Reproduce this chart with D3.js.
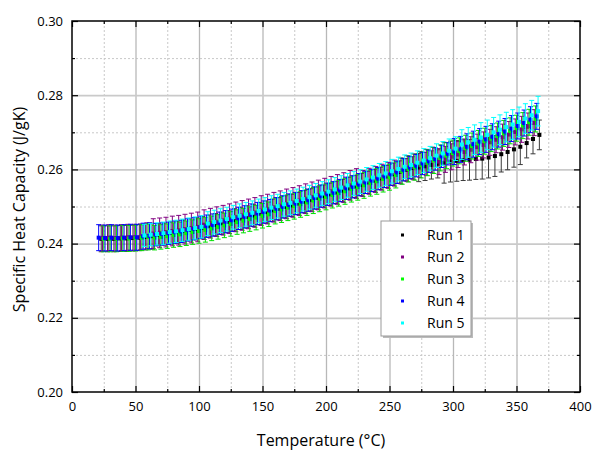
<!DOCTYPE html>
<html><head><meta charset="utf-8">
<script src="https://cdn.jsdelivr.net/npm/d3@7"></script>
<style>body{margin:0;background:#fff}svg{display:block}</style>
</head><body><svg id="c" width="594" height="453"></svg>
<script>
// ---------------- DATA ----------------
const seriesNames = ["Run 1", "Run 2", "Run 3", "Run 4", "Run 5"];
const xTicks = [0, 50, 100, 150, 200, 250, 300, 350, 400];
const xMinorTicks = [25, 75, 125, 175, 225, 275, 325, 375];
const yTicks = [0.20, 0.22, 0.24, 0.26, 0.28, 0.30];
const yMinorTicks = [0.21, 0.23, 0.25, 0.27, 0.29];
const xTitle = "Temperature (°C)";
const yTitle = "Specific Heat Capacity (J/gK)";

const run1Temp = [23,28,33,38,43,48,53,58,63,68,73,78,83,88,93,98,103,108,113,118,123,128,133,138,143,148,153,158,163,168,173,178,183,188,193,198,203,208,213,218,223,228,233,238,243,248,253,258,263,268,273,278,283,288,293,298,303,308,313,318,323,328,333,338,343,348,353,358,363,368];
const run1Cp = [.2413,.2413,.2413,.2414,.2414,.2415,.2416,.2418,.2420,.2424,.2426,.2429,.2431,.2434,.2437,.2440,.2443,.2447,.2451,.2455,.2459,.2464,.2468,.2472,.2476,.2481,.2485,.2490,.2494,.2499,.2503,.2508,.2513,.2518,.2523,.2528,.2533,.2538,.2543,.2549,.2554,.2559,.2565,.2570,.2576,.2581,.2587,.2593,.2599,.2604,.2605,.2608,.2612,.2615,.2618,.2621,.2623,.2625,.2626,.2628,.2629,.2632,.2636,.2641,.2647,.2654,.2661,.2671,.2682,.2693];
const run1Err = [.0035,.0035,.0035,.0035,.0035,.0035,.0035,.0035,.0035,.0030,.0030,.0030,.0030,.0030,.0030,.0030,.0030,.0030,.0030,.0030,.0030,.0030,.0030,.0030,.0030,.0030,.0030,.0030,.0030,.0030,.0030,.0030,.0030,.0030,.0030,.0030,.0030,.0030,.0030,.0030,.0030,.0030,.0030,.0030,.0030,.0030,.0030,.0030,.0030,.0030,.0038,.0038,.0038,.0038,.0055,.0055,.0055,.0055,.0055,.0055,.0055,.0055,.0055,.0048,.0048,.0048,.0048,.0040,.0040,.0040];

const run2Temp = [24,29,34,39,44,49,54,59,64,69,74,79,84,89,94,99,104,109,114,119,124,129,134,139,144,149,154,159,164,169,174,179,184,189,194,199,204,209,214,219,224,229,234,239,244,249,254,259,264,269,274,279,284,289,294,299,304,309,314,319,324,329,334,339,344,349,354,359,364];
const run2Cp = [.2415,.2416,.2415,.2416,.2417,.2417,.2418,.2421,.2427,.2429,.2431,.2434,.2436,.2439,.2442,.2445,.2451,.2455,.2459,.2463,.2467,.2472,.2476,.2480,.2484,.2489,.2493,.2498,.2502,.2507,.2511,.2516,.2521,.2526,.2531,.2536,.2541,.2546,.2551,.2557,.2562,.2562,.2568,.2573,.2579,.2584,.2590,.2596,.2602,.2607,.2613,.2619,.2625,.2621,.2627,.2634,.2640,.2647,.2653,.2660,.2666,.2673,.2680,.2687,.2694,.2701,.2708,.2717,.2726];
const run2Err = [.0035,.0035,.0035,.0035,.0035,.0035,.0035,.0035,.0040,.0040,.0040,.0040,.0040,.0040,.0040,.0040,.0040,.0040,.0040,.0040,.0040,.0040,.0040,.0040,.0040,.0040,.0040,.0040,.0040,.0040,.0040,.0040,.0040,.0040,.0040,.0040,.0040,.0040,.0040,.0040,.0040,.0035,.0035,.0035,.0035,.0035,.0035,.0035,.0035,.0035,.0035,.0035,.0035,.0035,.0035,.0035,.0035,.0035,.0035,.0035,.0035,.0035,.0035,.0035,.0035,.0035,.0035,.0035,.0035];

const run3Temp = [25,30,35,40,45,50,55,60,65,70,75,80,85,90,95,100,105,110,115,120,125,130,135,140,145,150,155,160,165,170,175,180,185,190,195,200,205,210,215,220,225,230,235,240,245,250,255,260,265,270,275,280,285,290,295,300,305,310,315,320,325,330,335,340,345,350,355,360,365];
const run3Cp = [.2413,.2413,.2413,.2414,.2414,.2415,.2416,.2418,.2416,.2418,.2420,.2423,.2425,.2428,.2431,.2434,.2437,.2441,.2445,.2449,.2453,.2458,.2462,.2466,.2470,.2475,.2479,.2488,.2492,.2497,.2501,.2506,.2511,.2516,.2521,.2526,.2531,.2536,.2541,.2547,.2552,.2557,.2563,.2568,.2574,.2579,.2585,.2595,.2601,.2606,.2612,.2618,.2624,.2631,.2637,.2644,.2650,.2657,.2663,.2670,.2676,.2683,.2690,.2697,.2704,.2711,.2718,.2727,.2736];
const run3Err = [.0035,.0035,.0035,.0035,.0035,.0035,.0035,.0035,.0033,.0033,.0033,.0033,.0033,.0033,.0033,.0033,.0033,.0033,.0033,.0033,.0033,.0033,.0033,.0033,.0033,.0033,.0033,.0035,.0035,.0035,.0035,.0035,.0035,.0035,.0035,.0035,.0035,.0035,.0035,.0035,.0035,.0035,.0035,.0035,.0035,.0035,.0035,.0035,.0035,.0035,.0035,.0035,.0035,.0035,.0035,.0035,.0035,.0035,.0035,.0035,.0035,.0035,.0035,.0035,.0035,.0035,.0035,.0035,.0035];

const run4Temp = [21,26,31,36,41,46,51,56,61,66,71,76,81,86,91,96,101,106,111,116,121,126,131,136,141,146,151,156,161,166,171,176,181,186,191,196,201,206,211,216,221,226,231,236,241,246,251,256,261,266,271,276,281,286,291,296,301,306,311,316,321,326,331,336,341,346,351,356,361,366];
const run4Cp = [.2416,.2415,.2416,.2415,.2416,.2417,.2417,.2420,.2421,.2424,.2426,.2428,.2431,.2433,.2437,.2440,.2444,.2447,.2450,.2455,.2459,.2463,.2468,.2472,.2477,.2481,.2485,.2489,.2494,.2499,.2504,.2508,.2513,.2517,.2523,.2528,.2533,.2537,.2543,.2549,.2553,.2559,.2565,.2570,.2575,.2581,.2587,.2592,.2599,.2605,.2610,.2616,.2622,.2628,.2635,.2642,.2648,.2654,.2661,.2668,.2675,.2681,.2688,.2695,.2702,.2710,.2717,.2725,.2734,.2743];
const run4Err = [.0035,.0035,.0035,.0035,.0035,.0035,.0035,.0035,.0035,.0030,.0030,.0030,.0030,.0030,.0030,.0030,.0030,.0030,.0030,.0030,.0030,.0030,.0030,.0030,.0030,.0030,.0030,.0030,.0030,.0030,.0030,.0030,.0030,.0030,.0030,.0030,.0030,.0030,.0030,.0030,.0030,.0030,.0030,.0030,.0030,.0030,.0030,.0030,.0030,.0030,.0030,.0030,.0030,.0030,.0030,.0030,.0035,.0035,.0035,.0035,.0035,.0035,.0035,.0035,.0035,.0035,.0035,.0035,.0035,.0035];

const run5Temp = [57,62,67,72,77,82,87,92,97,102,107,112,117,122,127,132,137,142,147,152,157,162,167,172,177,182,187,192,197,202,207,212,217,222,227,232,237,242,247,252,257,262,267,272,277,282,287,292,297,302,307,312,317,322,327,332,337,342,347,352,357,362,367];
const run5Cp = [.2422,.2424,.2426,.2428,.2431,.2433,.2436,.2439,.2442,.2445,.2454,.2458,.2462,.2466,.2471,.2475,.2479,.2483,.2488,.2492,.2497,.2501,.2506,.2510,.2515,.2520,.2525,.2530,.2535,.2540,.2546,.2551,.2557,.2562,.2567,.2573,.2578,.2584,.2589,.2595,.2601,.2607,.2612,.2618,.2624,.2630,.2637,.2643,.2650,.2656,.2667,.2673,.2680,.2686,.2693,.2700,.2707,.2714,.2721,.2728,.2737,.2746,.2757];
const run5Err = [.0030,.0030,.0030,.0030,.0030,.0030,.0030,.0030,.0030,.0030,.0032,.0032,.0032,.0032,.0032,.0032,.0032,.0032,.0032,.0032,.0032,.0032,.0032,.0032,.0032,.0032,.0032,.0032,.0032,.0032,.0032,.0032,.0032,.0032,.0032,.0032,.0032,.0032,.0032,.0032,.0032,.0032,.0032,.0032,.0032,.0032,.0032,.0032,.0032,.0032,.0040,.0040,.0040,.0040,.0040,.0040,.0040,.0040,.0040,.0040,.0040,.0040,.0040];

// ---------------- STYLE ----------------
const seriesColors = ["#000000", "#800080", "#00ff00", "#0000ff", "#00ffff"];
const barColors = ["#3a3a3a", "#800080", "#00e000", "#0000ff", "#00ffff"];

const runs = [
  {name: seriesNames[0], t: run1Temp, v: run1Cp, e: run1Err},
  {name: seriesNames[1], t: run2Temp, v: run2Cp, e: run2Err},
  {name: seriesNames[2], t: run3Temp, v: run3Cp, e: run3Err},
  {name: seriesNames[3], t: run4Temp, v: run4Cp, e: run4Err},
  {name: seriesNames[4], t: run5Temp, v: run5Cp, e: run5Err}
];

const L = 72, R = 580, T = 21, B = 392;
const FONT = "'Open Sans', 'Noto Sans', sans-serif";
const x = d3.scaleLinear().domain([0, 400]).range([L, R]);
const y = d3.scaleLinear().domain([0.20, 0.30]).range([B, T]);

const svg = d3.select("#c");
svg.append("rect").attr("width", 594).attr("height", 453).attr("fill", "#fff");

// grid
const grid = svg.append("g");
grid.append("g").attr("transform", `translate(0,${B})`)
  .call(d3.axisBottom(x).tickValues(xMinorTicks).tickSize(-(B - T)).tickFormat(""))
  .call(g => g.select(".domain").remove())
  .selectAll("line").attr("stroke", "#c8c8c8").attr("stroke-width", 1).attr("stroke-dasharray", "2,2");
grid.append("g").attr("transform", `translate(${L},0)`)
  .call(d3.axisLeft(y).tickValues(yMinorTicks).tickSize(-(R - L)).tickFormat(""))
  .call(g => g.select(".domain").remove())
  .selectAll("line").attr("stroke", "#c8c8c8").attr("stroke-width", 1).attr("stroke-dasharray", "2,2");
grid.append("g").attr("transform", `translate(0,${B})`)
  .call(d3.axisBottom(x).tickValues(xTicks.slice(1, -1)).tickSize(-(B - T)).tickFormat(""))
  .call(g => g.select(".domain").remove())
  .selectAll("line").attr("stroke", "#b8b8b8").attr("stroke-width", 1.3);
grid.append("g").attr("transform", `translate(${L},0)`)
  .call(d3.axisLeft(y).tickValues(yTicks.slice(1, -1)).tickSize(-(R - L)).tickFormat(""))
  .call(g => g.select(".domain").remove())
  .selectAll("line").attr("stroke", "#cacaca").attr("stroke-width", 1.8);

// data
const plot = svg.append("g");
runs.forEach((run, ri) => {
  const pts = d3.zip(run.t, run.v, run.e);
  const g = plot.append("g");
  const col = barColors[ri];
  pts.forEach(([t, v, e]) => {
    const cx = x(t), y1 = y(v + e), y0 = y(v - e);
    g.append("line").attr("x1", cx).attr("x2", cx).attr("y1", y1).attr("y2", y0)
      .attr("stroke", col).attr("stroke-width", 1);
    g.append("line").attr("x1", cx - 2.5).attr("x2", cx + 2.5).attr("y1", y1).attr("y2", y1)
      .attr("stroke", col).attr("stroke-width", 1);
    g.append("line").attr("x1", cx - 2.5).attr("x2", cx + 2.5).attr("y1", y0).attr("y2", y0)
      .attr("stroke", col).attr("stroke-width", 1);
  });
  g.selectAll("rect.pt").data(pts).join("rect").attr("class", "pt")
    .attr("x", d => x(d[0]) - 2).attr("y", d => y(d[1]) - 2)
    .attr("width", 4).attr("height", 4).attr("fill", seriesColors[ri]);
});

// axes (ticks inward on all sides)
const ax = svg.append("g").attr("font-family", FONT);
function styleAxis(g) {
  g.select(".domain").remove();
  g.selectAll("line").attr("stroke", "#000").attr("stroke-width", 1.2);
  g.selectAll("text").attr("font-family", FONT).attr("font-size", 13).attr("fill", "#000");
}
ax.append("g").attr("transform", `translate(0,${B})`)
  .call(d3.axisBottom(x).tickValues(xTicks).tickSize(-6).tickPadding(10).tickFormat(d3.format("d"))).call(styleAxis);
ax.append("g").attr("transform", `translate(0,${B})`)
  .call(d3.axisBottom(x).tickValues(xMinorTicks).tickSize(-3).tickFormat("")).call(styleAxis);
ax.append("g").attr("transform", `translate(0,${T})`)
  .call(d3.axisTop(x).tickValues(xTicks).tickSize(-6).tickFormat("")).call(styleAxis);
ax.append("g").attr("transform", `translate(0,${T})`)
  .call(d3.axisTop(x).tickValues(xMinorTicks).tickSize(-3).tickFormat("")).call(styleAxis);
ax.append("g").attr("transform", `translate(${L},0)`)
  .call(d3.axisLeft(y).tickValues(yTicks).tickSize(-6).tickPadding(9).tickFormat(d3.format(".2f"))).call(styleAxis);
ax.append("g").attr("transform", `translate(${L},0)`)
  .call(d3.axisLeft(y).tickValues(yMinorTicks).tickSize(-3).tickFormat("")).call(styleAxis);
ax.append("g").attr("transform", `translate(${R},0)`)
  .call(d3.axisRight(y).tickValues(yTicks).tickSize(-6).tickFormat("")).call(styleAxis);
ax.append("g").attr("transform", `translate(${R},0)`)
  .call(d3.axisRight(y).tickValues(yMinorTicks).tickSize(-3).tickFormat("")).call(styleAxis);

svg.append("rect").attr("x", L).attr("y", T).attr("width", R - L).attr("height", B - T)
  .attr("fill", "none").attr("stroke", "#000").attr("stroke-width", 1.5);

// titles
svg.append("text").attr("x", (L + R) / 2 - 5).attr("y", 446).attr("text-anchor", "middle")
  .attr("font-family", FONT).attr("font-size", 16).text(xTitle);
svg.append("text").attr("transform", `translate(25,${(T + B) / 2 + 3}) rotate(-90)`)
  .attr("text-anchor", "middle").attr("font-family", FONT).attr("font-size", 16).text(yTitle);

// legend
const lg = svg.append("g").attr("transform", "translate(381,221)");
lg.append("rect").attr("x", 2).attr("y", 2).attr("width", 90).attr("height", 115).attr("fill", "#bbb");
lg.append("rect").attr("x", 0).attr("y", 0).attr("width", 90).attr("height", 115)
  .attr("fill", "#fff").attr("stroke", "#999").attr("stroke-width", 1);
seriesNames.forEach((n, i) => {
  const cy = 14 + i * 22;
  lg.append("rect").attr("x", 20).attr("y", cy - 1.5).attr("width", 3).attr("height", 3).attr("fill", seriesColors[i]);
  lg.append("text").attr("x", 46).attr("y", cy + 5).attr("font-family", FONT).attr("font-size", 14).text(n);
});
</script>
</body></html>
